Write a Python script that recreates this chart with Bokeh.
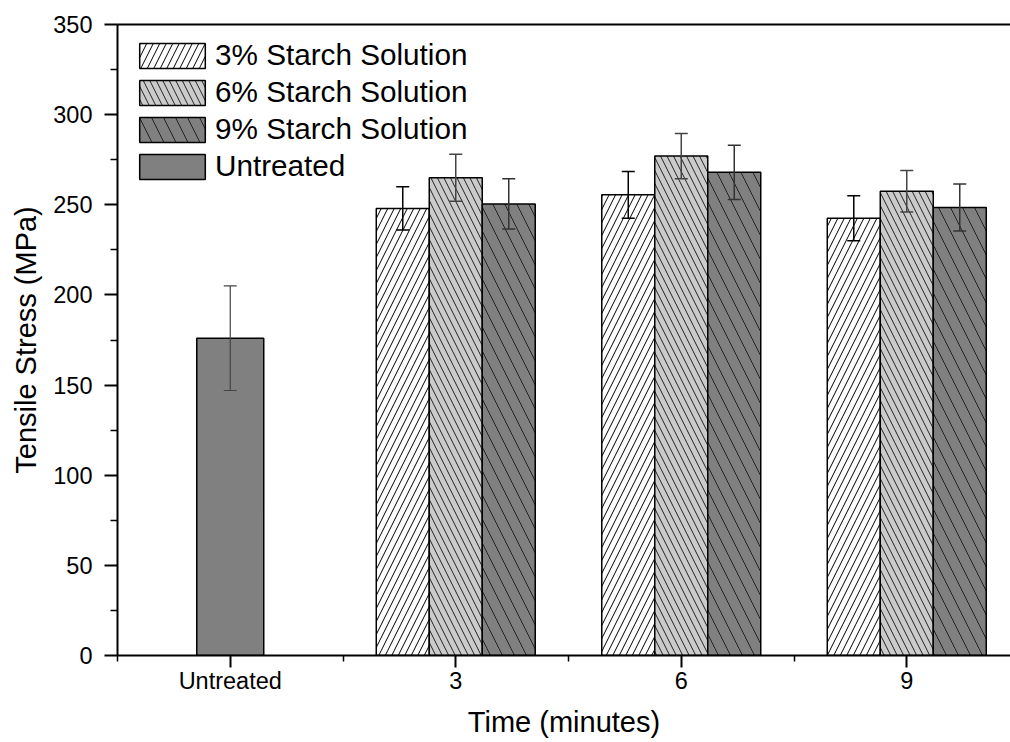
from bokeh.plotting import figure
from bokeh.models import (ColumnDataSource, Whisker, TeeHead, FixedTicker,
                          LinearAxis, Legend, LegendItem, Range1d)
from bokeh.embed import file_html
from bokeh.resources import INLINE

# ---- data ----
categories = ["Untreated", "3", "6", "9"]
times = ["3", "6", "9"]
untreated_mean = [176]
untreated_err = [29]
s3_mean = [248, 255.5, 242.5]
s3_err = [12, 13, 12.5]
s6_mean = [265, 277, 257.5]
s6_err = [13, 12.5, 11.5]
s9_mean = [250.5, 268, 248.5]
s9_err = [14, 15, 13]
series_names = ["3% Starch Solution", "6% Starch Solution", "9% Starch Solution"]
y_ticks = [0, 50, 100, 150, 200, 250, 300, 350]

FONT = "Liberation Sans"

p = figure(width=1010, height=742, output_backend="svg", toolbar_location=None,
           x_range=Range1d(-0.5, 3.46), y_range=Range1d(0, 350),
           min_border_left=117, min_border_right=0, min_border_top=24, min_border_bottom=87)
p.outline_line_color = None
p.xgrid.visible = False
p.ygrid.visible = False
p.background_fill_color = "white"

cat_pos = {c: i for i, c in enumerate(categories)}

# Untreated bar
ux = [cat_pos["Untreated"]]
src_u = ColumnDataSource(dict(x=ux, top=untreated_mean,
                              upper=[m + e for m, e in zip(untreated_mean, untreated_err)],
                              lower=[m - e for m, e in zip(untreated_mean, untreated_err)]))
r_u = p.vbar(x="x", top="top", width=0.297, source=src_u, fill_color="#808080",
             line_color="black", line_width=1.5)

bw = 0.235
offsets = [-bw, 0, bw]
fills = ["white", "#cbcbcb", "#808080"]
hatches = ["right_diagonal_line", "left_diagonal_line", "left_diagonal_line"]
hscales = [13, 13, 24]
hcolors = ["black", "#222222", "#222222"]
ecolors = ["black", "#444444", "#333333"]
renderers = []
for means, errs, off, fc, hp, hs, hc, ec in zip([s3_mean, s6_mean, s9_mean], [s3_err, s6_err, s9_err],
                                               offsets, fills, hatches, hscales, hcolors, ecolors):
    xs = [cat_pos[t] + off for t in times]
    src = ColumnDataSource(dict(x=xs, top=means,
                                upper=[m + e for m, e in zip(means, errs)],
                                lower=[m - e for m, e in zip(means, errs)]))
    r = p.vbar(x="x", top="top", width=bw, source=src, fill_color=fc, line_color="black",
               line_width=1.5, hatch_pattern=hp, hatch_scale=hs, hatch_color=hc, hatch_weight=1)
    renderers.append(r)
    w = Whisker(base="x", upper="upper", lower="lower", source=src, level="overlay",
                line_color=ec, line_width=1.5,
                upper_head=TeeHead(size=13, line_color=ec, line_width=1.5),
                lower_head=TeeHead(size=13, line_color=ec, line_width=1.5))
    p.add_layout(w)

wu = Whisker(base="x", upper="upper", lower="lower", source=src_u, level="overlay",
             line_color="#444444", line_width=1.2,
             upper_head=TeeHead(size=13, line_color="#444444", line_width=1.2),
             lower_head=TeeHead(size=13, line_color="#444444", line_width=1.2))
p.add_layout(wu)

# legend
items = [LegendItem(label=n, renderers=[r]) for n, r in zip(series_names, renderers)]
items.append(LegendItem(label="Untreated", renderers=[r_u]))
leg = Legend(items=items, location="top_left", margin=14, padding=20,
             glyph_width=82, glyph_height=31, label_standoff=2, spacing=3,
             label_text_font=FONT, label_text_font_size="29.7px", label_text_color="black",
             border_line_color=None, background_fill_alpha=0)
p.add_layout(leg, "center")

# axes
xa = p.xaxis[0]
xa.ticker = FixedTicker(ticks=[0, 1, 2, 3], minor_ticks=[-0.5, 0.5, 1.5, 2.5, 3.5])
xa.major_label_overrides = {i: c for i, c in enumerate(categories)}
xa.axis_label = "Time (minutes)"
ya = p.yaxis[0]
ya.ticker = FixedTicker(ticks=y_ticks, minor_ticks=[v + 25 for v in y_ticks[:-1]])
ya.axis_label = "Tensile Stress (MPa)"

for ax in (xa, ya):
    ax.axis_line_width = 2
    ax.axis_line_color = "black"
    ax.major_tick_line_width = 2
    ax.minor_tick_line_width = 1.5
    ax.major_tick_line_color = "black"
    ax.minor_tick_line_color = "black"
    ax.major_tick_in = 0
    ax.minor_tick_in = 0
    ax.major_label_text_font = FONT
    ax.major_label_text_font_size = "23.5px"
    ax.major_label_text_color = "black"
    ax.axis_label_text_font = FONT
    ax.axis_label_text_font_size = "29px"
    ax.axis_label_text_font_style = "normal"
    ax.axis_label_text_color = "black"

xa.major_tick_out = 12
xa.minor_tick_out = 6
xa.major_label_standoff = 0
xa.axis_label_standoff = 9
ya.major_tick_out = 13
ya.minor_tick_out = 7
ya.major_label_standoff = 12
ya.axis_label_standoff = 8

top = LinearAxis(ticker=FixedTicker(ticks=[]), major_label_text_font_size="0px",
                 major_tick_out=0, minor_tick_out=0, major_label_standoff=0,
                 axis_line_width=2, axis_line_color="black")
p.add_layout(top, "above")

open("out.html", "w").write(file_html(p, INLINE))
